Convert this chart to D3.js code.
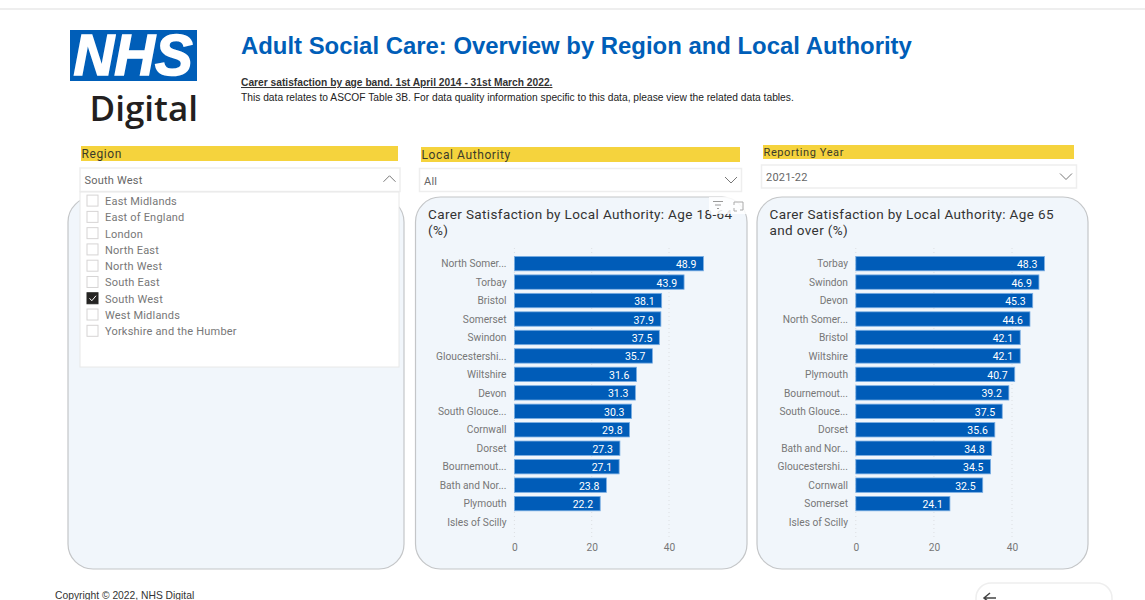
<!DOCTYPE html>
<html>
<head>
<meta charset="utf-8">
<title>Adult Social Care</title>
<script src="https://cdn.jsdelivr.net/npm/d3@7"></script>
<style>
    html, body { margin: 0; padding: 0; background: #fff; overflow: hidden; }
    svg { display: block; }
    .din { font-family: Roboto, sans-serif; }
    .arial { font-family: "Liberation Sans", Arial, sans-serif; }
    .axis path { display: none; }
    .axis line { display: none; }
    .axis text { font-family: Roboto, sans-serif; font-size: 10.2px; fill: #777; }
</style>
</head>
<body>
<div id="chartArea"></div>
<script>
var regions = ['East Midlands', 'East of England', 'London', 'North East', 'North West',
    'South East', 'South West', 'West Midlands', 'Yorkshire and the Humber'];
var selectedRegion = 'South West';

var names1864 = ['North Somer...', 'Torbay', 'Bristol', 'Somerset', 'Swindon', 'Gloucestershi...', 'Wiltshire',
    'Devon', 'South Glouce...', 'Cornwall', 'Dorset', 'Bournemout...', 'Bath and Nor...', 'Plymouth', 'Isles of Scilly'];
var values1864 = [48.9, 43.9, 38.1, 37.9, 37.5, 35.7, 31.6, 31.3, 30.3, 29.8, 27.3, 27.1, 23.8, 22.2, null];

var names65 = ['Torbay', 'Swindon', 'Devon', 'North Somer...', 'Bristol', 'Wiltshire', 'Plymouth',
    'Bournemout...', 'South Glouce...', 'Dorset', 'Bath and Nor...', 'Gloucestershi...', 'Cornwall', 'Somerset', 'Isles of Scilly'];
var values65 = [48.3, 46.9, 45.3, 44.6, 42.1, 42.1, 40.7, 39.2, 37.5, 35.6, 34.8, 34.5, 32.5, 24.1, null];

var xTicks = [0, 20, 40];

var svg = d3.select('#chartArea').append('svg').attr('width', 1145).attr('height', 600);

// 상단 구분선
svg.append('rect').attr('x', 0).attr('y', 8).attr('width', 1145).attr('height', 2).attr('fill', '#eeeeee');

// 로고
svg.append('rect').attr('x', 70).attr('y', 30).attr('width', 127).attr('height', 51).attr('fill', '#005eb8');
svg.append('text').attr('x', 133).attr('y', 75).attr('text-anchor', 'middle').attr('class', 'arial')
    .style('font-size', '58px').style('font-weight', 'bold').style('font-style', 'italic')
    .attr('textLength', 119).attr('lengthAdjust', 'spacingAndGlyphs')
    .attr('fill', '#fff').attr('stroke', '#fff').attr('stroke-width', 1.6).text('NHS');
svg.append('text').attr('x', 198).attr('y', 121).attr('text-anchor', 'end')
    .style('font-family', '"Open Sans", sans-serif').style('font-size', '35px').style('font-weight', 600)
    .attr('fill', '#231f20').text('Digital');

// 제목
svg.append('text').attr('x', 241).attr('y', 53.5).attr('class', 'arial')
    .style('font-size', '23.9px').style('font-weight', 'bold').attr('fill', '#005eb8')
    .text('Adult Social Care: Overview by Region and Local Authority');
svg.append('text').attr('x', 241).attr('y', 86).attr('class', 'arial')
    .style('font-size', '10.23px').style('font-weight', 'bold').style('text-decoration', 'underline').attr('fill', '#333')
    .text('Carer satisfaction by age band. 1st April 2014 - 31st March 2022.');
svg.append('text').attr('x', 241).attr('y', 101).attr('class', 'arial')
    .style('font-size', '10.24px').attr('fill', '#222')
    .text('This data relates to ASCOF Table 3B. For data quality information specific to this data, please view the related data tables.');

function panel(x, w) {
    svg.append('rect').attr('x', x).attr('y', 197).attr('width', w).attr('height', 372)
        .attr('rx', 25).attr('ry', 25).attr('fill', '#f1f6fb').attr('stroke', '#c4c6c8').attr('stroke-width', 1.2);
}
panel(68, 336);
panel(415.5, 331.5);
panel(757, 331);

function slicer(title, value, yellowX, yellowW, yellowY, yellowH, boxX, boxW, boxY, boxH, up, size) {
    svg.append('rect').attr('x', yellowX).attr('y', yellowY).attr('width', yellowW).attr('height', yellowH).attr('fill', '#f5d33d');
    svg.append('text').attr('class', 'din').attr('x', yellowX + 0.5).attr('y', yellowY + yellowH - 3)
        .style('font-size', size + 'px').style('letter-spacing', '0.6px').attr('fill', '#3b3b2a').text(title);
    svg.append('rect').attr('x', boxX).attr('y', boxY).attr('width', boxW).attr('height', boxH)
        .attr('fill', '#fff').attr('stroke', '#eeeeee').attr('stroke-width', 1.5);
    svg.append('text').attr('class', 'din').attr('x', boxX + 4.5).attr('y', boxY + boxH / 2 + 4.5)
        .style('font-size', '11px').style('letter-spacing', '0.2px').attr('fill', '#666').text(value);
    var cx = boxX + boxW - 10.5, cy = boxY + boxH / 2 + (up ? -1 : 0), d = up ? -1 : 1;
    svg.append('path').attr('d', 'M' + (cx - 6) + ',' + (cy - 3 * d) + 'L' + cx + ',' + (cy + 3 * d) + 'L' + (cx + 6) + ',' + (cy - 3 * d))
        .attr('fill', 'none').attr('stroke', '#777').attr('stroke-width', 1);
}
slicer('Region', 'South West', 81, 317, 146, 15, 80, 320, 168, 23.5, true, 12);

// 지역 목록
svg.append('rect').attr('x', 80).attr('y', 192).attr('width', 319).attr('height', 175)
    .attr('fill', '#fff').attr('stroke', '#e8e8e8');
var rowY = d3.scalePoint().domain(regions).range([200.6, 330.8]);
var rows = svg.selectAll('.regionRow').data(regions).enter().append('g').attr('class', 'regionRow');
rows.append('rect').attr('x', 87).attr('y', function (d) { return rowY(d) - 5.5; })
    .attr('width', 11).attr('height', 11)
    .attr('fill', function (d) { return d === selectedRegion ? '#252423' : '#fff'; })
    .attr('stroke', function (d) { return d === selectedRegion ? '#252423' : '#d6d4d4'; });
rows.filter(function (d) { return d === selectedRegion; }).append('path')
    .attr('d', function (d) { var y = rowY(d); return 'M89.5,' + y + 'L91.8,' + (y + 2.5) + 'L96,' + (y - 2.5); })
    .attr('fill', 'none').attr('stroke', '#fff').attr('stroke-width', 1);
rows.append('text').attr('class', 'din').attr('x', 105).attr('y', function (d) { return rowY(d) + 4.5; })
    .style('font-size', '11px').style('letter-spacing', '0.2px').attr('fill', '#777').text(function (d) { return d; });

slicer('Local Authority', 'All', 421, 319, 147, 15, 419.5, 322, 168.5, 23, false, 12);
slicer('Reporting Year', '2021-22', 763, 311, 145, 14, 761.5, 315, 165, 23, false, 11);

function barChart(names, values, title, titleX, x0, x40, labelX) {
    var x = d3.scaleLinear().domain([0, 40]).range([x0, x40]);
    var y = d3.scaleBand().domain(names).range([254.4, 531.3]).paddingInner(0.22).paddingOuter(0.11);
    var g = svg.append('g');

    title.forEach(function (line, i) {
        g.append('text').attr('class', 'din').attr('x', titleX).attr('y', 219 + i * 16)
            .style('font-size', '13.5px').style('letter-spacing', '0.38px').attr('fill', '#333').text(line);
    });

    g.selectAll('.grid').data(xTicks).enter().append('line').attr('class', 'grid')
        .attr('x1', function (d) { return x(d); }).attr('x2', function (d) { return x(d); })
        .attr('y1', 248).attr('y2', 537)
        .attr('stroke', '#dcdfe2').attr('stroke-width', 1).attr('stroke-dasharray', '1,3');

    g.append('g').attr('class', 'axis axis--x').attr('transform', 'translate(0,547)')
        .call(d3.axisBottom(x).tickValues(xTicks).tickSize(0).tickPadding(0))
        .selectAll('text').attr('dy', '0.35em').attr('y', 0);

    var yAxis = g.append('g').attr('class', 'axis axis--y').attr('transform', 'translate(' + labelX + ',0.4)')
        .call(d3.axisLeft(y).tickSize(0).tickPadding(0));

    var rowsData = names.map(function (n, i) { return { name: n, value: values[i] }; })
        .filter(function (d) { return d.value !== null; });

    g.selectAll('.bar').data(rowsData).enter().append('rect').attr('class', 'bar')
        .attr('x', x0).attr('y', function (d) { return y(d.name); })
        .attr('width', function (d) { return x(d.value) - x0; })
        .attr('height', y.bandwidth())
        .attr('fill', '#005cb8').attr('stroke', '#7aaee3').attr('stroke-width', 0.8);

    g.selectAll('.val').data(rowsData).enter().append('text').attr('class', 'val din')
        .attr('x', function (d) { return x(d.value) - 7; })
        .attr('y', function (d) { return y(d.name) + y.bandwidth() / 2 + 4.5; })
        .attr('text-anchor', 'end').style('font-size', '10.5px').attr('fill', '#fff')
        .text(function (d) { return d.value.toFixed(1); });
}

barChart(names1864, values1864, ['Carer Satisfaction by Local Authority: Age 18-64', '(%)'], 428, 514.4, 669, 506.5);
barChart(names65, values65, ['Carer Satisfaction by Local Authority: Age 65', 'and over (%)'], 769.5, 855.8, 1012, 848);

// 필터 / 확장 아이콘
svg.append('rect').attr('x', 709).attr('y', 197).attr('width', 38).attr('height', 17).attr('fill', '#fff').attr('opacity', 0.85);
[[713, 723, 201.5], [715, 721, 205], [717, 719, 208.5]].forEach(function (l) {
    svg.append('line').attr('x1', l[0]).attr('x2', l[1]).attr('y1', l[2]).attr('y2', l[2]).attr('stroke', '#999');
});
svg.append('path').attr('d', 'M734,205V202H743V210H740M734,208V211H737')
    .attr('fill', 'none').attr('stroke', '#aaa').attr('stroke-width', 1);

// 하단
svg.append('text').attr('x', 55).attr('y', 598.5).attr('class', 'arial')
    .style('font-size', '10.3px').attr('fill', '#333').text('Copyright © 2022, NHS Digital');
svg.append('rect').attr('x', 976).attr('y', 583).attr('width', 136).attr('height', 40).attr('rx', 15)
    .attr('fill', '#fff').attr('stroke', '#eeeeee').attr('stroke-width', 1.5);
svg.append('path').attr('d', 'M996,598H984M990,593L984,598L990,603')
    .attr('fill', 'none').attr('stroke', '#444').attr('stroke-width', 1.5);
</script>
</body>
</html>
